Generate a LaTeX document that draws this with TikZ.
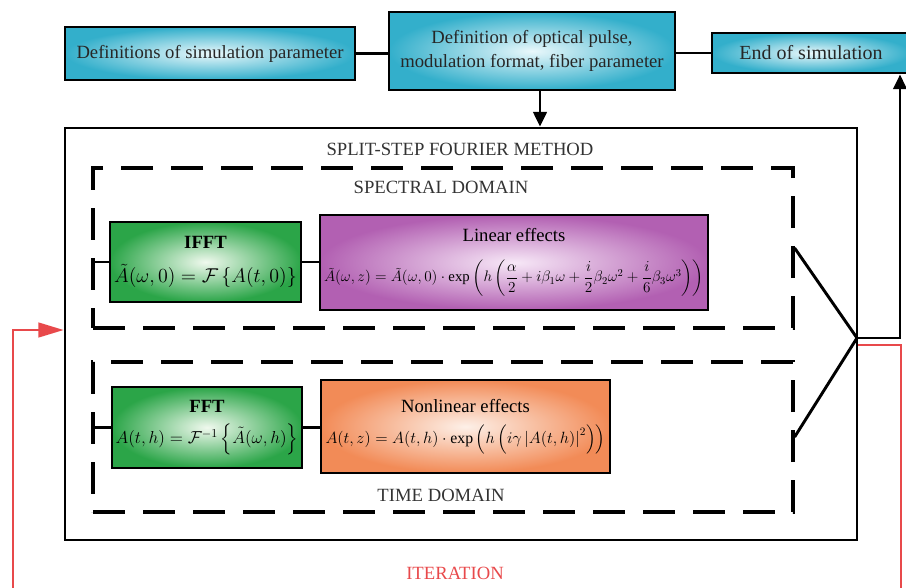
\documentclass[tikz,border=0pt]{standalone}
\usepackage{fontspec}
\setmainfont{Liberation Serif}
\usepackage{amsmath}
\usepackage{graphicx}
\usetikzlibrary{arrows.meta,calc}
\definecolor{cyanout}{HTML}{33AFCB}
\definecolor{cyanin}{HTML}{EAF8FB}
\definecolor{greenout}{HTML}{2BA548}
\definecolor{greenin}{HTML}{F0F9EE}
\definecolor{purpout}{HTML}{B260B2}
\definecolor{purpin}{HTML}{F7E8F7}
\definecolor{orout}{HTML}{F28B57}
\definecolor{orin}{HTML}{FDF0E8}
\definecolor{redc}{HTML}{E8494B}
\definecolor{txtc}{HTML}{333333}
\tikzset{
  topbox/.style={draw=black, line width=2.2pt, inner color=cyanin, outer color=cyanout,
    font=\fontsize{14}{18}\selectfont, align=center, text=black!85, inner sep=0pt},
  greenbox/.style={draw=black, line width=2.2pt, inner color=greenin, outer color=greenout,
    font=\fontsize{14}{18}\selectfont, align=center, inner sep=0pt},
  purpbox/.style={draw=black, line width=2.2pt, inner color=purpin, outer color=purpout,
    font=\fontsize{14}{18}\selectfont, align=center, inner sep=0pt},
  orbox/.style={draw=black, line width=2.2pt, inner color=orin, outer color=orout,
    font=\fontsize{14}{18}\selectfont, align=center, inner sep=0pt},
  outerbox/.style={draw=black, line width=2pt, inner sep=0pt},
  dashbox/.style={draw=black, line width=2.4pt, dash pattern=on 24pt off 13.5pt, inner sep=0pt},
  conn/.style={draw=black, line width=2.2pt},
  arr/.style={conn, -{Triangle[length=11pt,width=10pt]}},
  redarr/.style={draw=redc, line width=1.8pt, -{Triangle[length=19pt,width=11pt]}},
  lbl/.style={font=\fontsize{14}{16}\selectfont, text=txtc, inner sep=0pt}
}
\begin{document}
\begin{tikzpicture}[x=0.75pt,y=-0.75pt]
\useasboundingbox (0,0) rectangle (906,588);

% top boxes
\node[topbox, minimum width=217.5pt, minimum height=39.75pt] (b1) at (210,53.5) {Definitions of simulation parameter};
\node[topbox, minimum width=214.5pt, minimum height=58.5pt] (b2) at (532,51) {Definition of optical pulse,\\ modulation format, fiber parameter};
\node[topbox, minimum width=148.5pt, minimum height=30pt, font=\fontsize{15}{18}\selectfont] (b3) at (811,53) {End of simulation};

% outer and dashed boxes
\node[outerbox, minimum width=594pt, minimum height=309pt] (outer) at (461,334) {};
\node[lbl] (tssfm) at (460,149) {SPLIT-STEP FOURIER METHOD};
\node[dashbox, minimum width=525pt, minimum height=120pt] (d1) at (443,248) {};
\node[lbl] (tspec) at (441,187) {SPECTRAL DOMAIN};
\node[dashbox, minimum width=525pt, minimum height=112.5pt] (d2) at (443,437) {};
\node[lbl] (ttime) at (441,495) {TIME DOMAIN};
\node[lbl, text=redc] (titer) at (455,573) {ITERATION};

% inner boxes
\node[greenbox, minimum width=143.25pt, minimum height=60pt] (ifft) at (205.5,262)
  {\textbf{IFFT}\\[8pt] \resizebox{137pt}{!}{$\tilde{A}(\omega,0)=\mathcal{F}\left\{A(t,0)\right\}$}};
\node[purpbox, minimum width=291pt, minimum height=71.25pt] (lin) at (514,262.5)
  {Linear effects\\[12pt] \resizebox{285pt}{!}{$\tilde{A}(\omega,z)=\tilde{A}(\omega,0)\cdot\exp\left(h\left(\dfrac{\alpha}{2}+i\beta_1\omega+\dfrac{i}{2}\beta_2\omega^2+\dfrac{i}{6}\beta_3\omega^3\right)\right)$}};
\node[greenbox, minimum width=142.5pt, minimum height=60.75pt] (fft) at (207,427.5)
  {\textbf{FFT}\\[5pt] \resizebox{137pt}{!}{$A(t,h)=\mathcal{F}^{-1}\left\{\tilde{A}(\omega,h)\right\}$}};
\node[orbox, minimum width=216.75pt, minimum height=69.75pt] (nonlin) at (465.5,426.5)
  {Nonlinear effects\\[5pt] \resizebox{210pt}{!}{$A(t,z)=A(t,h)\cdot\exp\left(h\left(i\gamma\left|A(t,h)\right|^2\right)\right)$}};

% coordinates
\coordinate (J) at (857,338);
\coordinate (up) at (900,338);
\coordinate (rs) at (858,345);
\coordinate (rr) at (901,345);
\coordinate (rb) at (901,596);
\coordinate (lb) at (13,596);
\coordinate (lt) at (13,330);

% connectors
\draw[conn] (b1.east) -- (b1.east -| b2.west);
\draw[conn] (b2.east |- b3.west) -- (b3.west);
\draw[arr] ([xshift=6pt]b2.south) -- ([xshift=6pt]b2.south |- outer.north);
\draw[conn] (d1.west |- ifft.west) -- (ifft.west);
\draw[conn] (ifft.east) -- (ifft.east -| lin.west);
\draw[conn] (d2.west |- fft.west) -- (fft.west);
\draw[conn] (fft.east) -- (fft.east -| nonlin.west);
\draw[conn, line join=miter] (d1.east) -- (J) -- (d2.east);
\draw[arr] (J) -- (up) -- (up |- b3.south);
\draw[redarr] (rs) -- (rr) -- (rb) -- (lb) -- (lt) -- (lt -| outer.west);
\end{tikzpicture}
\end{document}
